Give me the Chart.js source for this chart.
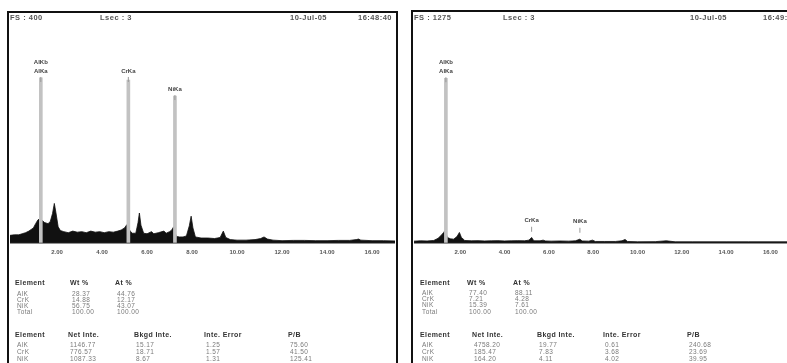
<!DOCTYPE html>
<html>
<head>
<meta charset="utf-8">
<script src="https://cdn.jsdelivr.net/npm/chart.js@4.4.0/dist/chart.umd.min.js"></script>
<style>
  body { margin: 0; width: 787px; height: 363px; background: #fff; overflow: hidden; position: relative; font-family: "Liberation Sans", Arial, sans-serif; }
  .panel { position: absolute; border: 2px solid #111; border-bottom: none; }
  .t { position: absolute; font-size: 6.5px; line-height: 7px; letter-spacing: 0.4px; color: #7a7a7a; white-space: pre; will-change: transform; }
  .h { color: #333; font-weight: bold; font-size: 7px; }
  .hd { position: absolute; font-size: 7.5px; letter-spacing: 0.5px; font-weight: bold; color: #555; white-space: pre; will-change: transform; }
  canvas { position: absolute; }
</style>
</head>
<body>
<div class="panel" style="left:7px; top:11px; width:387px; height:360px;"></div>
<div class="panel" style="left:411px; top:10px; width:400px; height:360px;"></div>
<canvas id="left" width="385" height="232" style="left:10px; top:30px;"></canvas>
<canvas id="right" width="373" height="232" style="left:414px; top:30px;"></canvas>

<script>
// x axis ticks (keV)
const tickValues = [2, 4, 6, 8, 10, 12, 14, 16];

// ---- left spectrum (FS 400)
const leftEnergy = [-0.09, 0.1, 0.3, 0.45, 0.6, 0.75, 0.95, 1.05, 1.15, 1.22, 1.34, 1.45, 1.6, 1.7, 1.8, 1.88, 1.95, 2.05, 2.15,
  2.3, 2.5, 2.7, 2.9, 3.1, 3.3, 3.5, 3.7, 3.9, 4.1, 4.3, 4.5, 4.7, 4.85, 5.0, 5.1, 5.25, 5.35, 5.5, 5.6, 5.66, 5.73, 5.85,
  6.0, 6.2, 6.3, 6.5, 6.75, 6.85, 7.0, 7.1, 7.18, 7.3, 7.45, 7.6, 7.75, 7.88, 7.96, 8.04, 8.15, 8.4, 8.7, 9.0, 9.25, 9.39, 9.5,
  9.7, 10.0, 10.4, 10.8, 11.05, 11.2, 11.35, 11.6, 12.0, 12.5, 13.0, 13.5, 14.0, 14.5, 15.0, 15.3, 15.4, 15.5, 16.0, 16.5, 17.05];
const leftCounts = [14, 15, 15, 17, 19, 22, 28, 36, 43, 45, 42, 38, 36, 40, 55, 74, 57, 30, 23,
  21, 19, 22, 20, 21, 19, 22, 20, 21, 19, 21, 20, 22, 24, 28, 34, 22, 18, 18, 38, 56, 33, 18,
  17, 21, 17, 19, 22, 18, 21, 24, 30, 12, 11, 11, 13, 32, 50, 28, 11, 9, 9, 8, 10, 22, 10,
  6, 5, 5, 6, 8, 11, 7, 5, 4, 4.5, 4.5, 4, 4, 4.5, 4.5, 6, 7, 5, 4, 4, 3.5];
const leftPeakEnergy = [1.28, 5.17, 7.24];
const leftPeakCounts = [310, 306, 276];
const leftLabels = ['AlKb', 'AlKa', 'CrKa', 'NiKa'];
const leftLabelEnergy = [1.28, 1.28, 5.17, 7.24];
const leftLabelCounts = [340, 323, 323, 289];

// ---- right spectrum (FS 1275)
const rightEnergy = [-0.09, 0.2, 0.5, 0.8, 1.0, 1.15, 1.25, 1.3, 1.42, 1.55, 1.7, 1.85, 1.96, 2.05, 2.2,
  2.5, 2.8, 3.1, 3.4, 3.7, 4.0, 4.3, 4.6, 4.9, 5.1, 5.22, 5.32, 5.6, 5.74, 5.85, 6.1, 6.5, 6.9, 7.2, 7.4, 7.5,
  7.8, 7.97, 8.1, 8.5, 9.0, 9.3, 9.44, 9.55, 10.0, 10.8, 11.3, 11.7, 12.5, 14.0, 15.0, 16.8];
const rightCounts = [10, 12, 11, 14, 27, 47, 62, 72, 32, 24, 22, 37, 62, 32, 14,
  12, 13, 11, 12, 13, 11, 12, 13, 12, 16, 32, 12, 12, 16, 11, 10, 11, 10, 12, 22, 11,
  10, 16, 8, 8, 8, 12, 20, 8, 6, 7, 12, 6, 6, 6, 6, 6];
const rightPeakEnergy = [1.35];
const rightPeakCounts = [986];
const rightLabels = ['AlKb', 'AlKa', 'CrKa', 'NiKa'];
const rightLabelEnergy = [1.35, 1.35, 5.22, 7.4];
const rightLabelCounts = [1082, 1028, 132, 126];

// peak name labels with a small marker under them
const peakLabels = {
  id: 'peakLabels',
  afterDatasetsDraw(chart, args, opts) {
    const {ctx, scales: {x, y}} = chart;
    ctx.save();
    ctx.font = 'bold 6px "Liberation Sans", Arial';
    ctx.fillStyle = '#444';
    ctx.textAlign = 'center';
    ctx.textBaseline = 'middle';
    opts.names.forEach((name, i) => {
      const px = x.getPixelForValue(opts.energy[i]);
      const py = y.getPixelForValue(opts.counts[i]);
      ctx.fillText(name, px, py);
      // marker under the last label of each peak
      if (i == opts.names.length - 1 || opts.energy[i + 1] != opts.energy[i]) {
        ctx.strokeStyle = '#999';
        ctx.lineWidth = 1;
        ctx.beginPath();
        ctx.moveTo(px, py + 6);
        ctx.lineTo(px, py + 11);
        ctx.stroke();
      }
    });
    ctx.restore();
  }
};

function makeChart(id, energy, counts, peakE, peakC, fullScale, xMin, xMax, names, labE, labC) {
  const ctx = document.getElementById(id).getContext('2d');
  return new Chart(ctx, {
    type: 'line',
    data: {
      datasets: [{
        type: 'bar',
        data: peakE.map((e, i) => ({x: e, y: peakC[i]})),
        backgroundColor: '#c2c2c2',
        barThickness: 3,
        order: 0
      }, {
        data: energy.map((e, i) => ({x: e, y: counts[i]})),
        borderColor: '#111',
        borderWidth: 0.8,
        backgroundColor: '#111',
        fill: 'origin',
        pointRadius: 0,
        tension: 0,
        order: 1
      }]
    },
    options: {
      responsive: false,
      animation: false,
      devicePixelRatio: 1,
      layout: { padding: 0 },
      scales: {
        x: {
          type: 'linear',
          offset: false,
          min: xMin,
          max: xMax,
          grid: { display: false, drawTicks: false, offset: false },
          border: { display: true, color: '#222', width: 1.5 },
          afterBuildTicks: axis => { axis.ticks = tickValues.map(v => ({value: v})); },
          ticks: {
            padding: 6,
            color: '#555',
            font: { size: 6, weight: 'bold', family: '"Liberation Sans", Arial' },
            callback: v => v.toFixed(2),
            maxRotation: 0
          }
        },
        y: { display: false, min: 0, max: fullScale }
      },
      plugins: {
        legend: { display: false },
        tooltip: { enabled: false },
        peakLabels: { names: names, energy: labE, counts: labC }
      }
    },
    plugins: [peakLabels]
  });
}

makeChart('left', leftEnergy, leftCounts, leftPeakEnergy, leftPeakCounts, 400, -0.09, 17.02,
  leftLabels, leftLabelEnergy, leftLabelCounts);
makeChart('right', rightEnergy, rightCounts, rightPeakEnergy, rightPeakCounts, 1275, -0.09, 16.75,
  rightLabels, rightLabelEnergy, rightLabelCounts);

// header lines and result tables (text only)
const leftHeader = [['FS : 400', 10], ['Lsec : 3', 100], ['10-Jul-05', 290], ['16:48:40', 358]];
const rightHeader = [['FS : 1275', 414], ['Lsec : 3', 503], ['10-Jul-05', 690], ['16:49:08', 763]];

const quantCols = ['Element', 'Wt %', 'At %'];
const leftQuant = [['AlK', '28.37', '44.76'], ['CrK', '14.88', '12.17'], ['NiK', '56.75', '43.07'], ['Total', '100.00', '100.00']];
const rightQuant = [['AlK', '77.40', '88.11'], ['CrK', '7.21', '4.28'], ['NiK', '15.39', '7.61'], ['Total', '100.00', '100.00']];

const inteCols = ['Element', 'Net Inte.', 'Bkgd Inte.', 'Inte. Error', 'P/B'];
const leftInte = [['AlK', '1146.77', '15.17', '1.25', '75.60'], ['CrK', '776.57', '18.71', '1.57', '41.50'], ['NiK', '1087.33', '8.67', '1.31', '125.41']];
const rightInte = [['AlK', '4758.20', '19.77', '0.61', '240.68'], ['CrK', '185.47', '7.83', '3.68', '23.69'], ['NiK', '164.20', '4.11', '4.02', '39.95']];

function put(text, x, y, cls) {
  const d = document.createElement('div');
  d.className = cls;
  d.textContent = text;
  d.style.left = x + 'px';
  d.style.top = y + 'px';
  document.body.appendChild(d);
  return d;
}

leftHeader.forEach(h => put(h[0], h[1], 13, 'hd'));
rightHeader.forEach(h => put(h[0], h[1], 13, 'hd'));

function table(cols, rows, colX, headY, rowY) {
  cols.forEach((c, i) => put(c, colX[i], headY, 't h'));
  rows.forEach((r, j) => r.forEach((v, i) => {
    put(v, colX[i] + 2, rowY[j], 't');
  }));
}

table(quantCols, leftQuant, [15, 70, 115], 279, [290, 296, 302, 308]);
table(inteCols, leftInte, [15, 68, 134, 204, 288], 331, [341, 348, 355]);
table(quantCols, rightQuant, [420, 467, 513], 279, [289, 295, 301, 308]);
table(inteCols, rightInte, [420, 472, 537, 603, 687], 331, [341, 348, 355]);
</script>
</body>
</html>
